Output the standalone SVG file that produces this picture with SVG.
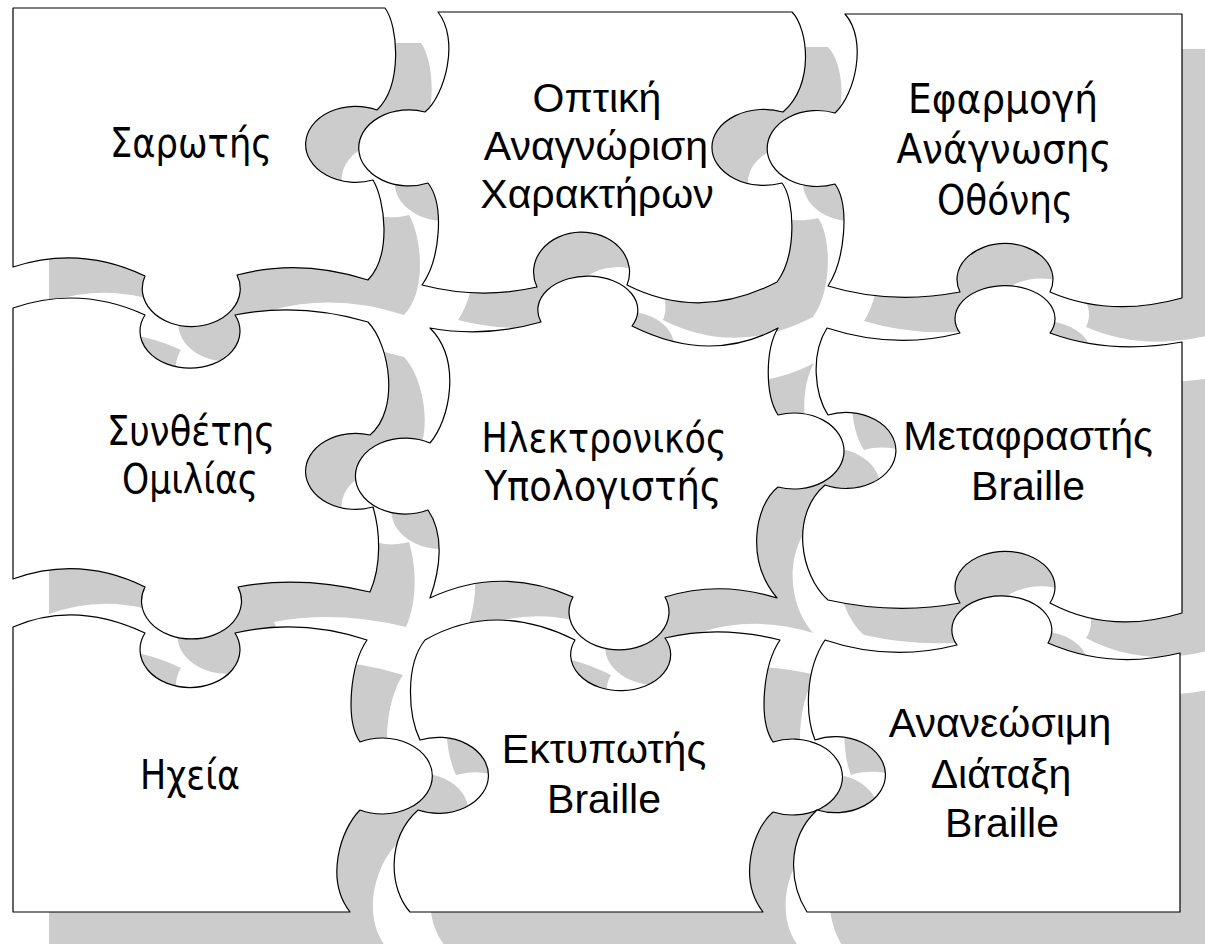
<svg xmlns="http://www.w3.org/2000/svg" xmlns:xlink="http://www.w3.org/1999/xlink" width="1205" height="944" viewBox="0 0 1205 944">
<style>
.shadow{fill:#cccccc;stroke:none}
.piece{fill:#ffffff;stroke:#000000;stroke-width:1.2;stroke-linejoin:round}
.t1{font-family:"DejaVu Sans","Noto Sans",sans-serif;font-size:40px;fill:#000;text-anchor:middle}
.t2{font-family:"Liberation Sans",Arial,sans-serif;font-size:41px;fill:#000;text-anchor:middle}
</style>
<defs>
<path id="s1" d="M 13 8 L 385 8 C 398 25 403 85 377 110 A 50 38 0 1 0 373 180 C 385 200 392 255 368 280 Q 300 258 237 275 A 49 38 0 1 1 145 276 Q 80 245 13 267 Z"/>
<path id="s2" d="M 438 12 L 792 12 C 808 28 815 85 783 112 A 52 38 0 1 0 782 183 C 795 200 797 255 777 282 Q 700 322 627 285 A 48 40 0 1 0 537 287 Q 480 300 422 285 C 440 260 445 205 428 183 A 50 38 0 1 1 425 112 C 445 95 460 40 438 12 Z"/>
<path id="s3" d="M 845 14 L 1182 14 L 1182 298 Q 1110 318 1050 292 A 48 36 0 1 0 960 292 Q 890 305 828 286 C 845 260 850 205 835 184 A 50 38 0 1 1 835 113 C 855 95 868 40 845 14 Z"/>
<path id="s4" d="M 13 308 Q 80 285 145 315 A 50 37 0 1 0 235 315 Q 300 302 368 322 C 390 345 400 410 370 435 A 50 38 0 1 0 373 507 C 380 530 382 565 370 592 Q 300 575 238 587 A 50 38 0 1 1 145 587 Q 80 555 13 579 Z"/>
<path id="s5" d="M 430 328 Q 485 338 541 322 A 50 34 0 1 1 632 326 Q 710 365 778 328 C 765 350 765 395 778 415 A 50 38 0 1 1 778 487 C 755 505 745 560 777 598 Q 720 580 665 597 A 50 38 0 1 1 573 597 Q 500 565 430 598 C 440 570 445 535 428 510 A 50 38 0 1 1 430 443 C 450 420 462 360 430 328 Z"/>
<path id="s6" d="M 827 328 Q 895 350 960 333 A 50 33 0 1 1 1050 333 Q 1110 355 1182 342 L 1182 613 Q 1110 635 1050 603 A 50 36 0 1 0 960 603 Q 895 615 828 600 C 800 575 790 515 825 485 A 50 38 0 1 0 828 415 C 815 395 810 355 827 328 Z"/>
<path id="s7" d="M 13 627 Q 75 600 145 633 A 50 38 0 1 0 235 633 Q 300 618 367 640 C 350 665 345 720 360 742 A 50 38 0 1 1 360 810 C 340 830 325 880 350 912 L 13 912 Z"/>
<path id="s8" d="M 425 640 Q 495 600 575 640 A 50 36 0 1 0 665 638 Q 720 625 780 640 C 763 665 758 720 773 742 A 50 38 0 1 1 773 812 C 752 830 738 880 763 912 L 410 912 C 390 890 385 840 418 810 A 50 38 0 1 0 420 740 C 408 715 405 665 425 640 Z"/>
<path id="s9" d="M 825 640 Q 890 662 957 645 A 50 34 0 1 1 1048 643 Q 1110 670 1180 653 L 1180 912 L 807 912 C 790 885 785 840 817 810 A 50 38 0 1 0 815 740 C 805 715 805 670 825 640 Z"/>
</defs>
<g id="shadows" class="shadow" transform="translate(36,35)">
<use href="#s1"/><use href="#s2"/><use href="#s3"/>
<use href="#s4"/><use href="#s5"/><use href="#s6"/>
<use href="#s7"/><use href="#s8"/><use href="#s9"/>
</g>
<g id="node-sarotis"><use href="#s1" class="piece"/>
<text class="t1" x="191" y="157" textLength="162" lengthAdjust="spacingAndGlyphs">Σαρωτής</text></g>
<g id="node-ocr"><use href="#s2" class="piece"/>
<text class="t2" x="597" y="112">Οπτική</text>
<text class="t2" x="596" y="160">Αναγνώριση</text>
<text class="t2" x="597" y="208">Χαρακτήρων</text></g>
<g id="node-screenreader"><use href="#s3" class="piece"/>
<text class="t1" x="1003" y="113" textLength="190" lengthAdjust="spacingAndGlyphs">Εφαρμογή</text>
<text class="t1" x="1004" y="163" textLength="215" lengthAdjust="spacingAndGlyphs">Ανάγνωσης</text>
<text class="t1" x="1005" y="214" textLength="136" lengthAdjust="spacingAndGlyphs">Οθόνης</text></g>
<g id="node-synth"><use href="#s4" class="piece"/>
<text class="t1" x="191" y="445" textLength="168" lengthAdjust="spacingAndGlyphs">Συνθέτης</text>
<text class="t1" x="190" y="493" textLength="136" lengthAdjust="spacingAndGlyphs">Ομιλίας</text></g>
<g id="node-computer"><use href="#s5" class="piece"/>
<text class="t1" x="604" y="452" textLength="245" lengthAdjust="spacingAndGlyphs">Ηλεκτρονικός</text>
<text class="t1" x="603" y="500" textLength="237" lengthAdjust="spacingAndGlyphs">Υπολογιστής</text></g>
<g id="node-translator"><use href="#s6" class="piece"/>
<text class="t2" x="1028" y="450">Μεταφραστής</text>
<text class="t2" x="1028" y="500">Braille</text></g>
<g id="node-speakers"><use href="#s7" class="piece"/>
<text class="t1" x="190" y="789" textLength="100" lengthAdjust="spacingAndGlyphs">Ηχεία</text></g>
<g id="node-printer"><use href="#s8" class="piece"/>
<text class="t2" x="604" y="763">Εκτυπωτής</text>
<text class="t2" x="604" y="813">Braille</text></g>
<g id="node-display"><use href="#s9" class="piece"/>
<text class="t2" x="1000" y="737">Ανανεώσιμη</text>
<text class="t2" x="1001" y="788">Διάταξη</text>
<text class="t2" x="1002" y="837">Braille</text></g>
</svg>
